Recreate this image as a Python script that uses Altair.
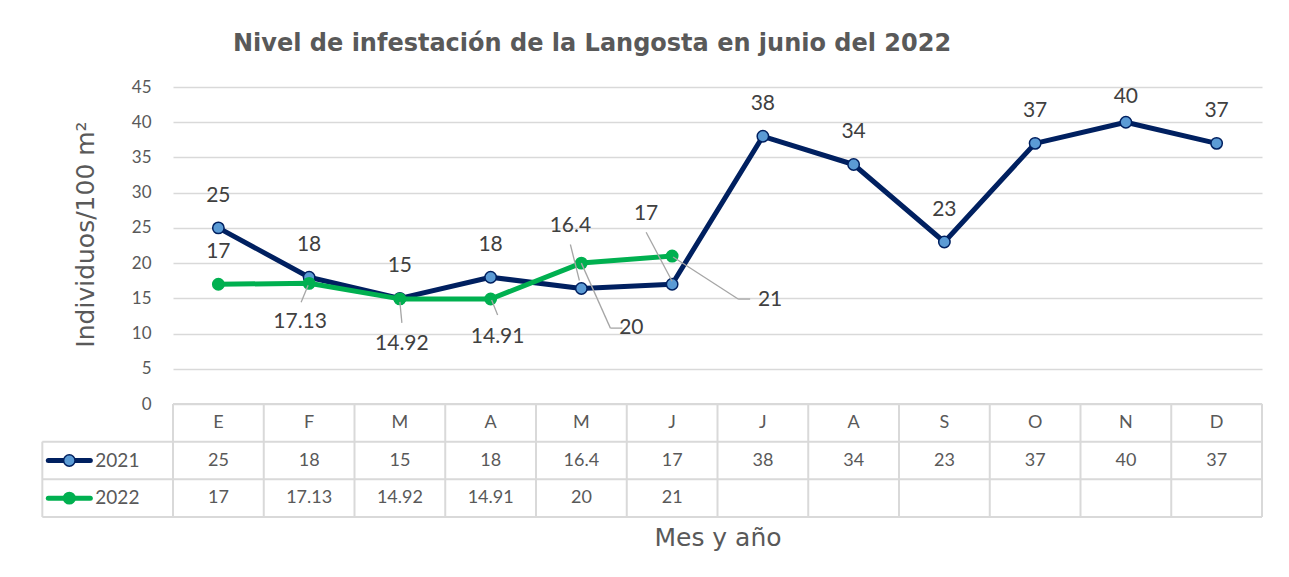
import altair as alt
import pandas as pd

# ---------------- data ----------------
months = ["E", "F", "M", "A", "M", "J", "J", "A", "S", "O", "N", "D"]
v2021 = [25, 18, 15, 18, 16.4, 17, 38, 34, 23, 37, 40, 37]
v2022 = [17, 17.13, 14.92, 14.91, 20, 21, None, None, None, None, None, None]
years = ["2021", "2022"]
title_text = "Nivel de infestación de la Langosta en junio del 2022"
y_title = "Individuos/100 m²"
x_title = "Mes y año"

# ---------------- styling ----------------
NAVY = "#002060"
LIGHTBLUE = "#5B9BD5"
GREEN = "#00B050"
GRID = "#d9d9d9"
TXT = "#595959"
LBL = "#404040"
FONT = "Lato"
TFONT = "DejaVu Sans"
LEFT = -1.44  # left edge of table label column (in column units)

rows = []
for i, m in enumerate(months):
    for r, (yr, vals) in enumerate(zip(years, [v2021, v2022])):
        v = vals[i]
        rows.append({
            "idx": i, "xc": i + 0.5, "month": m, "year": yr,
            "value": v, "row": 1.5 + r,
            "label": "" if v is None else f"{v:g}",
        })
df = pd.DataFrame(rows)
df_valid = df[df["value"].notna()].copy()

# label placement (pixel offsets, style only)
label_offsets = {
    ("2021", 4): (-11, -62), ("2021", 5): (-26, -70), ("2021", 10): (0, -25),
    ("2022", 0): (0, -32), ("2022", 1): (-9, 39), ("2022", 2): (2, 45),
    ("2022", 3): (7, 38), ("2022", 4): (50, 65), ("2022", 5): (98, 44),
}
leaders = [
    ("2022", 1, (-1, 2), (-8, 19)),
    ("2022", 2, (0, 3), (2, 24)),
    ("2022", 3, (1, 1), (7, 16)),
    ("2022", 4, (0, 0), (29, 65)), ("2022", 4, (29, 65), (41, 65)),
    ("2022", 5, (1, 1), (66, 43)), ("2022", 5, (66, 43), (78, 43)),
    ("2021", 4, (-11, -44), (-2, -8)),
    ("2021", 5, (-26, -52), (0, -3)),
]

# ---------------- scales / axes ----------------
xscale = alt.Scale(domain=[0, 12], nice=False, zero=False)
xaxis = alt.Axis(title=x_title, labels=False, ticks=False, domain=False, grid=False,
                 titleFont=TFONT, titleFontSize=25, titleFontWeight="normal",
                 titleColor=TXT, titlePadding=121)
yscale = alt.Scale(domain=[0, 45], nice=False, zero=True)
yaxis = alt.Axis(values=list(range(0, 50, 5)), ticks=False, domain=False,
                 grid=True, gridColor=GRID, gridWidth=1.5,
                 labelFont=FONT, labelFontSize=17, labelColor=TXT, labelPadding=22,
                 title=y_title, titleFont=TFONT, titleFontSize=25,
                 titleFontWeight="normal", titleColor=TXT, titleAngle=-90,
                 titleX=-88, titleY=147, titleAlign="center", titleBaseline="middle")
tscale = alt.Scale(domain=[0, 3], range=[317, 430], nice=False, zero=False)


def X(f):
    return alt.X(f"{f}:Q", scale=xscale, axis=xaxis)


def YP(f):
    return alt.Y(f"{f}:Q", scale=yscale, axis=yaxis)


def YT(f):
    return alt.Y(f"{f}:Q", scale=tscale, axis=None)


base = alt.Chart(df_valid)

plot_layers = []
for yr, col in [("2021", NAVY), ("2022", GREEN)]:
    d = base.transform_filter(alt.datum.year == yr)
    plot_layers.append(
        d.mark_line(color=col, strokeWidth=5, strokeJoin="round", strokeCap="round")
        .encode(x=X("xc"), y=YP("value"), order="idx:Q")
    )
    fill = LIGHTBLUE if yr == "2021" else GREEN
    plot_layers.append(
        d.mark_point(filled=True, shape="circle", size=130, fill=fill, stroke=col,
                     strokeWidth=1.5, opacity=1)
        .encode(x=X("xc"), y=YP("value"))
    )

# leader lines
for yr, i, (sx, sy), (ex, ey) in leaders:
    d = base.transform_filter((alt.datum.year == yr) & (alt.datum.idx == i))
    plot_layers.append(
        d.mark_rule(color="#a6a6a6", strokeWidth=1.3, xOffset=sx, yOffset=sy,
                    x2Offset=ex, y2Offset=ey)
        .encode(x=X("xc"), x2="xc:Q", y=YP("value"), y2="value:Q")
    )

# data labels
special_2021 = [i for (yr, i) in label_offsets if yr == "2021"]
d_def = base.transform_filter(alt.datum.year == "2021").transform_filter(
    ~alt.FieldOneOfPredicate(field="idx", oneOf=special_2021))
plot_layers.append(
    d_def.mark_text(font=FONT, fontSize=21, color=LBL, dy=-32, baseline="middle")
    .encode(x=X("xc"), y=YP("value"), text="label:N")
)
for (yr, i), (dx, dy) in label_offsets.items():
    d = base.transform_filter((alt.datum.year == yr) & (alt.datum.idx == i))
    plot_layers.append(
        d.mark_text(font=FONT, fontSize=21, color=LBL, dx=dx, dy=dy, baseline="middle")
        .encode(x=X("xc"), y=YP("value"), text="label:N")
    )

plot = alt.layer(*plot_layers)

# ---------------- data table ----------------
hdr = pd.DataFrame({"xc": [i + 0.5 for i in range(12)], "month": months, "row": [0.5] * 12})
hlines = pd.DataFrame({"y": [0, 1, 2, 3], "x1": [0, LEFT, LEFT, LEFT], "x2": [12] * 4})
vlines = pd.DataFrame({"x": list(range(13)) + [LEFT], "y1": [0] * 13 + [1], "y2": [3] * 14})
leg = pd.DataFrame({"year": years, "row": [1.5, 2.5], "x": [LEFT, LEFT]})

table_layers = [
    alt.Chart(hlines).mark_rule(color=GRID, strokeWidth=2).encode(
        x=X("x1"), x2="x2:Q", y=YT("y")),
    alt.Chart(vlines).mark_rule(color=GRID, strokeWidth=2).encode(
        x=X("x"), y=YT("y1"), y2="y2:Q"),
    alt.Chart(hdr).mark_text(font=FONT, fontSize=18, color=TXT, baseline="middle").encode(
        x=X("xc"), y=YT("row"), text="month:N"),
    alt.Chart(df_valid).mark_text(font=FONT, fontSize=18, color=TXT, baseline="middle").encode(
        x=X("xc"), y=YT("row"), text="label:N"),
]
for k, yr in enumerate(years):
    col = [NAVY, GREEN][k]
    fill = [LIGHTBLUE, GREEN][k]
    d = alt.Chart(leg).transform_filter(alt.datum.year == yr)
    table_layers.append(
        d.mark_rule(color=col, strokeWidth=5, strokeCap="round", xOffset=6, x2Offset=48)
        .encode(x=X("x"), x2="x:Q", y=YT("row"))
    )
    table_layers.append(
        d.mark_point(filled=True, shape="circle", size=130, fill=fill, stroke=col,
                     strokeWidth=1.5, opacity=1, xOffset=27)
        .encode(x=X("x"), y=YT("row"))
    )
    table_layers.append(
        d.mark_text(font=FONT, fontSize=19, color=TXT, align="left", baseline="middle", dx=53)
        .encode(x=X("x"), y=YT("row"), text="year:N")
    )

table = alt.layer(*table_layers)

chart = alt.layer(plot, table).resolve_scale(y="independent").properties(
    width=1089,
    height=317,
    autosize=alt.AutoSizeParams(type="none"),
    padding={"left": 165, "top": 79, "right": 19, "bottom": 150},
    background="white",
    title=alt.TitleParams(
        text=title_text, anchor="start", frame="group", dx=60, offset=22,
        font=TFONT, fontSize=24, fontWeight="bold", color=TXT,
    ),
).configure_view(stroke=None)

chart.save("out.html", embed_options={"renderer": "svg", "actions": False})
